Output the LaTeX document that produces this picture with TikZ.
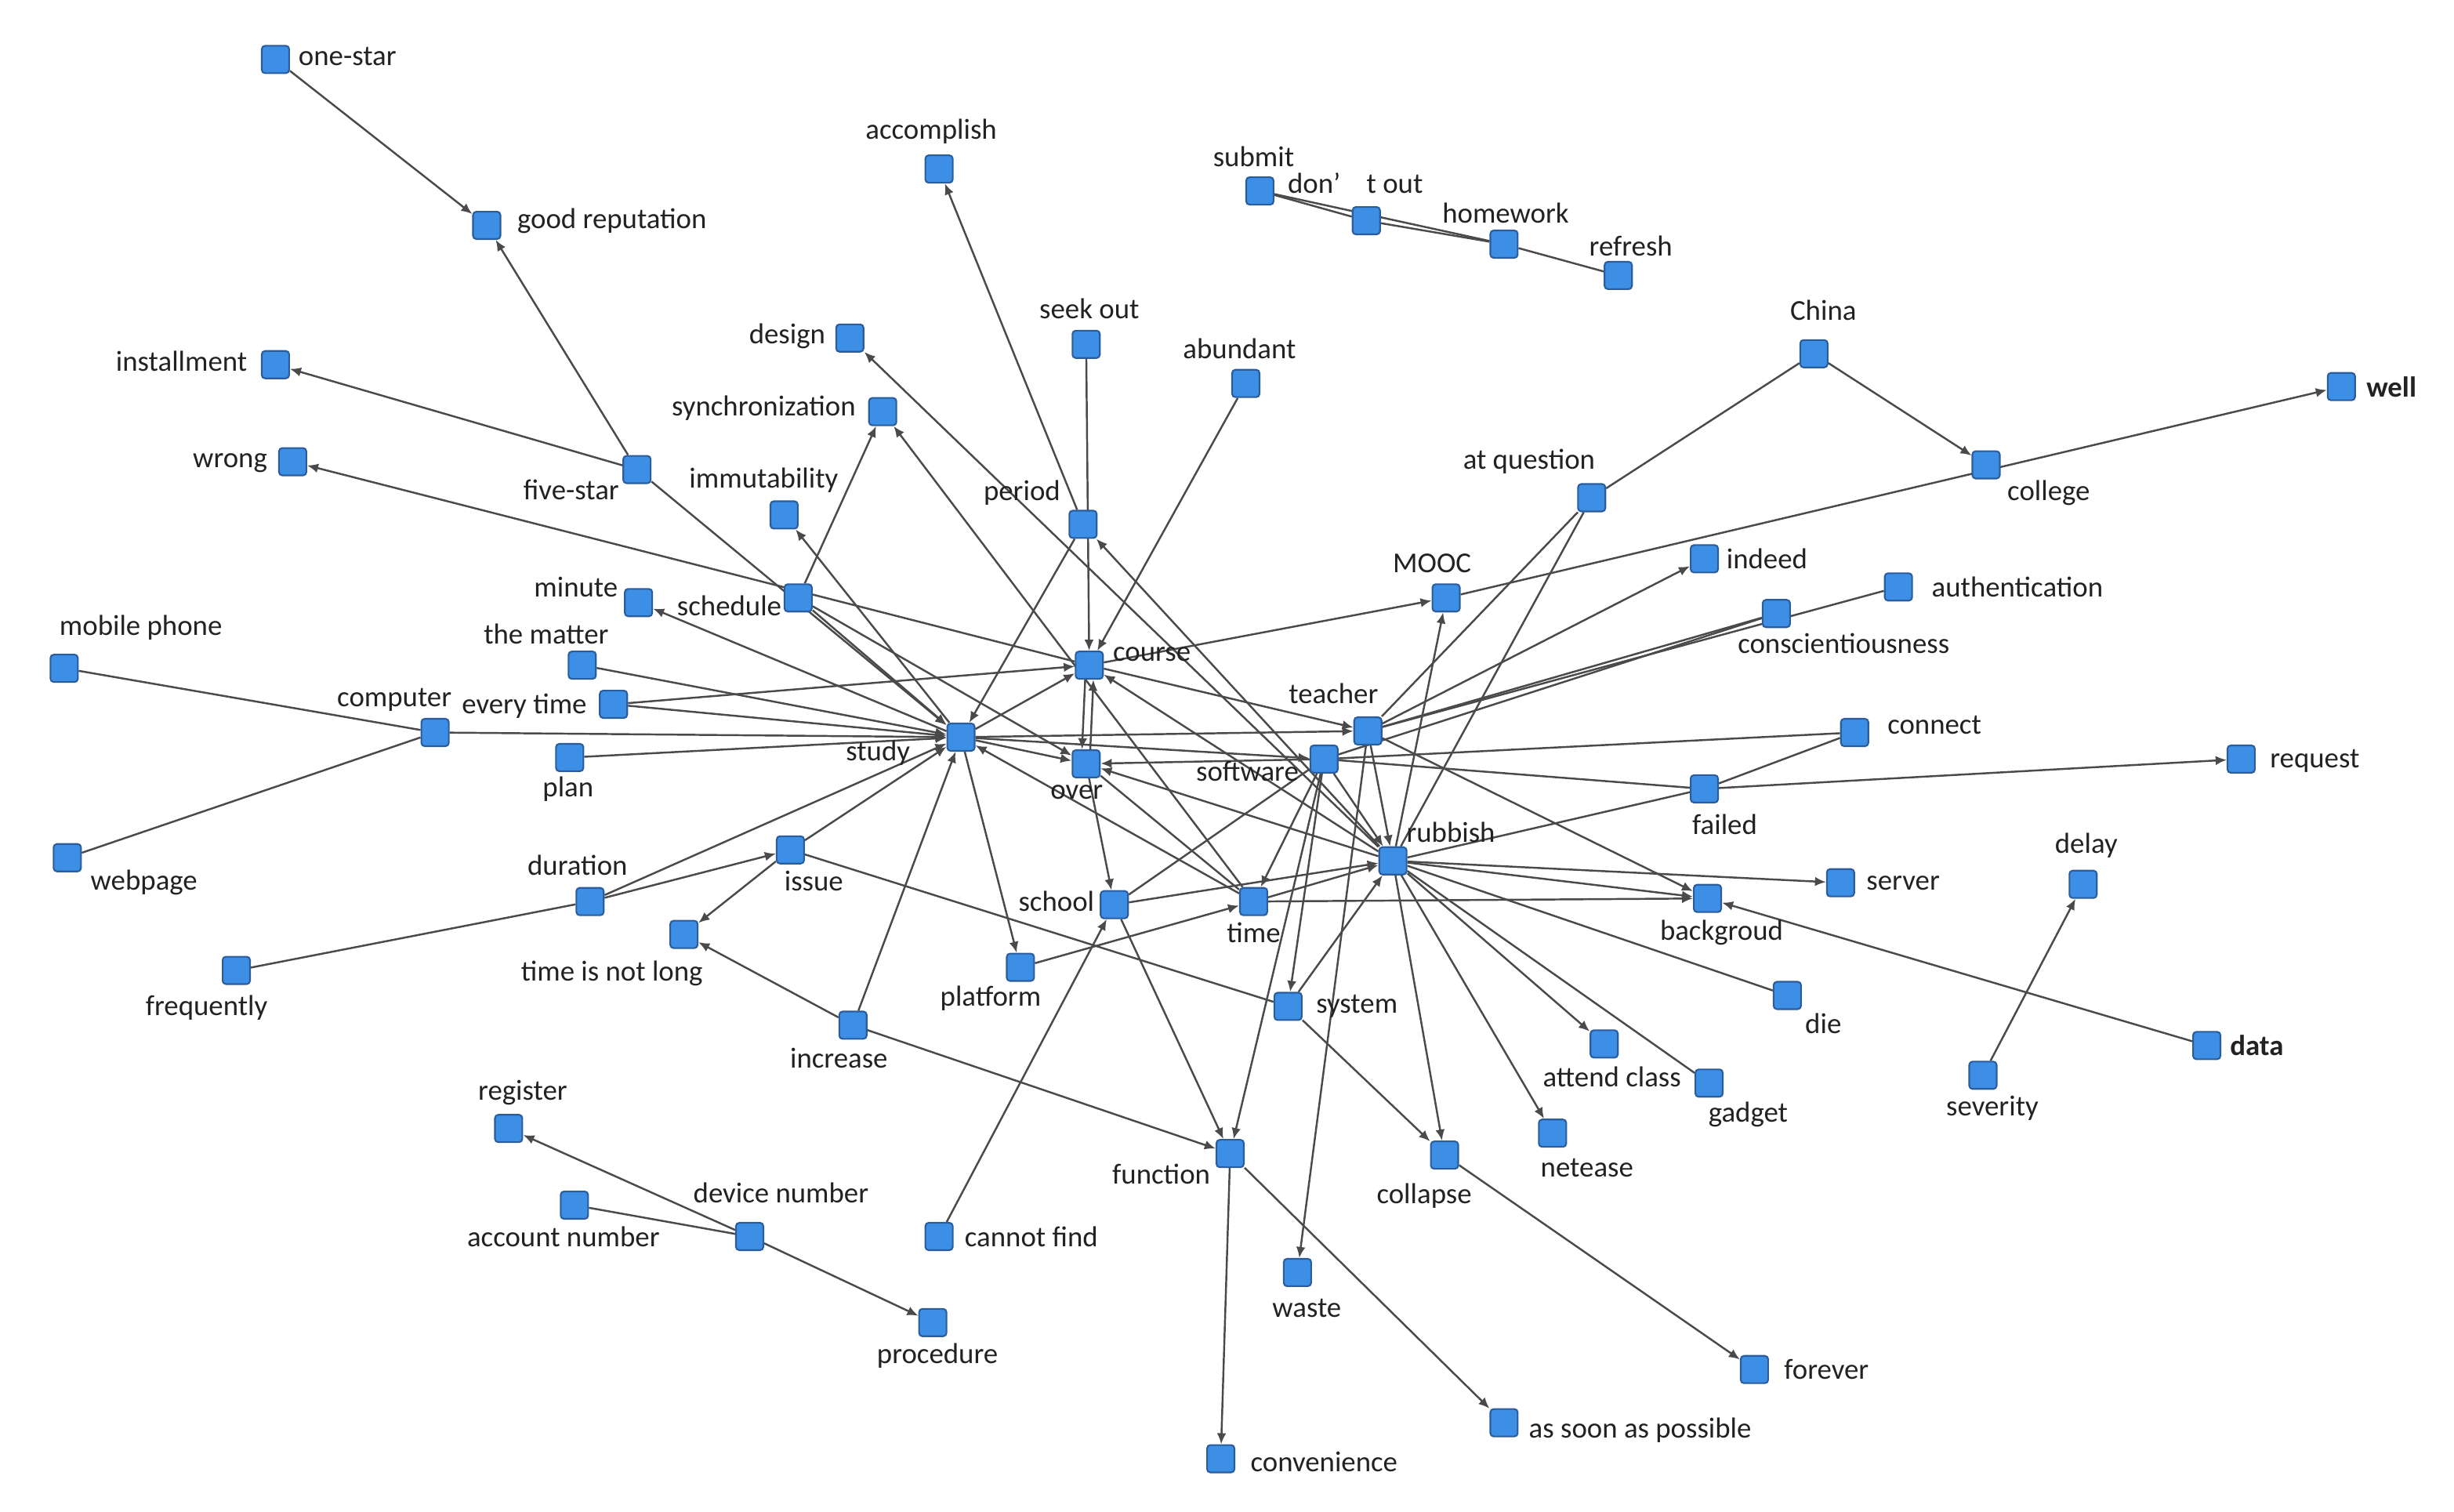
\documentclass[tikz,border=0pt]{standalone}
\usepackage{fontspec}
\setmainfont{Carlito}
\usetikzlibrary{arrows.meta}
\definecolor{nodefill}{HTML}{3D8FE6}
\definecolor{nodeedge}{HTML}{2B5C9C}
\definecolor{edgecol}{HTML}{4A4A4A}
\definecolor{txt}{HTML}{222222}
\pgfdeclarelayer{bg}
\pgfsetlayers{bg,main}
\begin{document}
\begin{tikzpicture}[x=0.02cm,y=-0.02cm,
 nd/.style={draw=nodeedge,fill=nodefill,line width=0.6pt,rounded corners=1.2pt,minimum size=0.35cm,inner sep=0pt},
 lbl/.style={text=txt,font=\fontsize{10.5}{12}\selectfont,inner sep=0pt,anchor=center},
 ed/.style={draw=edgecol,line width=0.7pt},
 ar/.style={ed,-{Latex[length=4pt,width=3.4pt]}},
]
\useasboundingbox (0,0) rectangle (1568,966);
% nodes
\node[nd] (onestar) at (176,38) {};
\node[nd] (goodrep) at (311,144) {};
\node[nd] (accomplish) at (600,108) {};
\node[nd] (submit) at (805,122) {};
\node[nd] (dontout) at (873,141) {};
\node[nd] (homework) at (961,156) {};
\node[nd] (refresh) at (1034,176) {};
\node[nd] (design) at (543,216) {};
\node[nd] (seekout) at (694,220) {};
\node[nd] (abundant) at (796,245) {};
\node[nd] (china) at (1159,226) {};
\node[nd] (well) at (1496,247) {};
\node[nd] (installment) at (176,233) {};
\node[nd] (sync) at (564,263) {};
\node[nd] (wrong) at (187,295) {};
\node[nd] (fivestar) at (407,300) {};
\node[nd] (college) at (1269,297) {};
\node[nd] (immut) at (501,329) {};
\node[nd] (period) at (692,335) {};
\node[nd] (atq) at (1017,318) {};
\node[nd] (indeed) at (1089,357) {};
\node[nd] (mooc) at (924,382) {};
\node[nd] (auth) at (1213,375) {};
\node[nd] (consc) at (1135,392) {};
\node[nd] (minute) at (408,385) {};
\node[nd] (schedule) at (510,382) {};
\node[nd] (matter) at (372,425) {};
\node[nd] (course) at (696,425) {};
\node[nd] (mobile) at (41,427) {};
\node[nd] (everytime) at (392,450) {};
\node[nd] (computer) at (278,468) {};
\node[nd] (teacher) at (874,467) {};
\node[nd] (study) at (614,471) {};
\node[nd] (connect) at (1185,468) {};
\node[nd] (plan) at (364,484) {};
\node[nd] (software) at (846,485) {};
\node[nd] (over) at (694,488) {};
\node[nd] (request) at (1432,485) {};
\node[nd] (failed) at (1089,504) {};
\node[nd] (webpage) at (43,548) {};
\node[nd] (issue) at (505,543) {};
\node[nd] (rubbish) at (890,550) {};
\node[nd] (server) at (1176,564) {};
\node[nd] (delay) at (1331,565) {};
\node[nd] (duration) at (377,576) {};
\node[nd] (school) at (712,578) {};
\node[nd] (time) at (801,576) {};
\node[nd] (backgroud) at (1091,574) {};
\node[nd] (tinl) at (437,597) {};
\node[nd] (platform) at (652,618) {};
\node[nd] (frequently) at (151,620) {};
\node[nd] (die) at (1142,636) {};
\node[nd] (system) at (823,643) {};
\node[nd] (increase) at (545,655) {};
\node[nd] (attend) at (1025,667) {};
\node[nd] (data) at (1410,668) {};
\node[nd] (severity) at (1267,687) {};
\node[nd] (gadget) at (1092,692) {};
\node[nd] (register) at (325,721) {};
\node[nd] (netease) at (992,724) {};
\node[nd] (function) at (786,737) {};
\node[nd] (collapse) at (923,738) {};
\node[nd] (account) at (367,770) {};
\node[nd] (device) at (479,790) {};
\node[nd] (cannotfind) at (600,790) {};
\node[nd] (waste) at (829,813) {};
\node[nd] (procedure) at (596,845) {};
\node[nd] (forever) at (1121,875) {};
\node[nd] (asap) at (961,909) {};
\node[nd] (convenience) at (780,932) {};
% labels
\node[lbl] (t-onestar) at (222,36) {one-star};
\node[lbl] (t-goodrep) at (391,141) {good reputation};
\node[lbl] (t-accomplish) at (595,84) {accomplish};
\node[lbl] (t-submit) at (801,100) {submit};
\node[lbl] (t-dontout) at (866,117) {don’\hspace{0.9em}t out};
\node[lbl] (t-homework) at (962,136) {homework};
\node[lbl] (t-refresh) at (1042,157) {refresh};
\node[lbl] (t-design) at (503,215) {design};
\node[lbl] (t-seekout) at (696,197) {seek out};
\node[lbl] (t-abundant) at (792,223) {abundant};
\node[lbl] (t-china) at (1165,198) {China};
\node[lbl] (t-well) at (1528,247) {\bfseries well};
\node[lbl] (t-installment) at (116,231) {installment};
\node[lbl] (t-sync) at (488,261) {synchronization};
\node[lbl] (t-wrong) at (147,296) {wrong};
\node[lbl] (t-fivestar) at (365,313) {five-star};
\node[lbl] (t-college) at (1309,315) {college};
\node[lbl] (t-immut) at (488,307) {immutability};
\node[lbl] (t-period) at (653,315) {period};
\node[lbl] (t-atq) at (977,295) {at question};
\node[lbl] (t-mooc) at (915,360) {MOOC};
\node[lbl] (t-indeed) at (1129,357) {indeed};
\node[lbl] (t-auth) at (1289,375) {authentication};
\node[lbl] (t-consc) at (1178,411) {conscientiousness};
\node[lbl] (t-minute) at (368,375) {minute};
\node[lbl] (t-schedule) at (466,387) {schedule};
\node[lbl] (t-matter) at (349,405) {the matter};
\node[lbl] (t-course) at (736,418) {course};
\node[lbl] (t-mobile) at (90,401) {mobile phone};
\node[lbl] (t-everytime) at (335,451) {every time};
\node[lbl] (t-computer) at (252,447) {computer};
\node[lbl] (t-teacher) at (852,443) {teacher};
\node[lbl] (t-study) at (561,481) {study};
\node[lbl] (t-connect) at (1236,463) {connect};
\node[lbl] (t-plan) at (363,504) {plan};
\node[lbl] (t-software) at (797,493) {software};
\node[lbl] (t-over) at (688,506) {over};
\node[lbl] (t-request) at (1479,486) {request};
\node[lbl] (t-failed) at (1102,527) {failed};
\node[lbl] (t-webpage) at (92,564) {webpage};
\node[lbl] (t-issue) at (520,563) {issue};
\node[lbl] (t-rubbish) at (927,532) {rubbish};
\node[lbl] (t-server) at (1216,564) {server};
\node[lbl] (t-delay) at (1333,540) {delay};
\node[lbl] (t-duration) at (369,553) {duration};
\node[lbl] (t-school) at (675,576) {school};
\node[lbl] (t-time) at (801,596) {time};
\node[lbl] (t-backgroud) at (1100,596) {backgroud};
\node[lbl] (t-tinl) at (391,622) {time is not long};
\node[lbl] (t-platform) at (633,638) {platform};
\node[lbl] (t-frequently) at (132,644) {frequently};
\node[lbl] (t-die) at (1165,654) {die};
\node[lbl] (t-system) at (867,643) {system};
\node[lbl] (t-increase) at (536,676) {increase};
\node[lbl] (t-attend) at (1030,688) {attend class};
\node[lbl] (t-data) at (1442,668) {\bfseries data};
\node[lbl] (t-severity) at (1273,708) {severity};
\node[lbl] (t-gadget) at (1117,712) {gadget};
\node[lbl] (t-register) at (334,698) {register};
\node[lbl] (t-netease) at (1014,746) {netease};
\node[lbl] (t-function) at (742,750) {function};
\node[lbl] (t-collapse) at (910,764) {collapse};
\node[lbl] (t-account) at (360,790) {account number};
\node[lbl] (t-device) at (499,762) {device number};
\node[lbl] (t-cannotfind) at (659,790) {cannot find};
\node[lbl] (t-waste) at (835,836) {waste};
\node[lbl] (t-procedure) at (599,866) {procedure};
\node[lbl] (t-forever) at (1167,875) {forever};
\node[lbl] (t-asap) at (1048,914) {as soon as possible};
\node[lbl] (t-convenience) at (846,934) {convenience};
% edges
\begin{pgfonlayer}{bg}
\fill[white] (0,0) rectangle (1568,966);
\draw[ar] (onestar) -- (goodrep);
\draw[ar] (fivestar) -- (goodrep);
\draw[ar] (fivestar) -- (installment);
\draw[ar] (course) -- (wrong);
\draw[ar] (fivestar) -- (study);
\draw[ar] (schedule) -- (sync);
\draw[ar] (time) -- (sync);
\draw[ar] (rubbish) -- (design);
\draw[ar] (study) -- (immut);
\draw[ar] (period) -- (accomplish);
\draw[ar] (seekout) -- (course);
\draw[ar] (abundant) -- (course);
\draw[ar] (rubbish) -- (period);
\draw[ar] (period) -- (study);
\draw[ar] (study) -- (minute);
\draw[ar] (schedule) -- (study);
\draw[ar] (schedule) -- (over);
\draw[ar] (matter) -- (study);
\draw[ar] (everytime) -- (course);
\draw[ar] (everytime) -- (study);
\draw[ar] (computer) -- (study);
\draw[ar] (plan) -- (study);
\draw[ed] (mobile) -- (computer);
\draw[ed] (webpage) -- (computer);
\draw[ed] (frequently) -- (duration);
\draw[ar] (duration) -- (issue);
\draw[ar] (duration) -- (study);
\draw[ar] (issue) -- (study);
\draw[ar] (issue) -- (tinl);
\draw[ar] (increase) -- (tinl);
\draw[ar] (increase) -- (study);
\draw[ar] (increase) -- (function);
\draw[ar] (study) -- (platform);
\draw[ar] (platform) -- (time);
\draw[ar] (cannotfind) -- (school);
\draw[ar] (study) -- (over);
\draw[ar] (study) -- (course);
\draw[ar] ([xshift=-1.5pt]course.south) -- ([xshift=-1.5pt]over.north);
\draw[ar] ([xshift=1.5pt]over.north) -- ([xshift=1.5pt]course.south);
\draw[ar] (over) -- (school);
\draw[ar] (study) -- (teacher);
\draw[ar] (study) -- (software);
\draw[ar] (time) -- (study);
\draw[ar] (rubbish) -- (over);
\draw[ar] (software) -- (over);
\draw[ar] (course) -- (teacher);
\draw[ar] (rubbish) -- (course);
\draw[ar] (course) -- (mooc);
\draw[ar] (rubbish) -- (mooc);
\draw[ar] (mooc) -- (well);
\draw[ed] (china) -- (atq);
\draw[ar] (china) -- (college);
\draw[ed] (atq) -- (teacher);
\draw[ed] (atq) -- (rubbish);
\draw[ar] (teacher) -- (indeed);
\draw[ed] (teacher) -- (consc);
\draw[ed] (software) -- (consc);
\draw[ed] (teacher) -- (auth);
\draw[ed] (software) -- (connect);
\draw[ed] (failed) -- (connect);
\draw[ed] (software) -- (failed);
\draw[ar] (failed) -- (request);
\draw[ed] (rubbish) -- (failed);
\draw[ar] (rubbish) -- (server);
\draw[ar] (rubbish) -- (backgroud);
\draw[ar] (teacher) -- (backgroud);
\draw[ar] (time) -- (backgroud);
\draw[ar] (data) -- (backgroud);
\draw[ar] (severity) -- (delay);
\draw[ed] (rubbish) -- (die);
\draw[ar] (rubbish) -- (attend);
\draw[ed] (rubbish) -- (gadget);
\draw[ar] (rubbish) -- (netease);
\draw[ar] (rubbish) -- (collapse);
\draw[ar] (system) -- (collapse);
\draw[ar] (collapse) -- (forever);
\draw[ar] (software) -- (system);
\draw[ar] (system) -- (rubbish);
\draw[ed] (issue) -- (system);
\draw[ar] (school) -- (function);
\draw[ar] (software) -- (function);
\draw[ar] (function) -- (convenience);
\draw[ar] (function) -- (asap);
\draw[ar] (teacher) -- (waste);
\draw[ed] (school) -- (software);
\draw[ar] (school) -- (rubbish);
\draw[ar] (time) -- (rubbish);
\draw[ar] (software) -- (time);
\draw[ar] (teacher) -- (rubbish);
\draw[ar] (software) -- (rubbish);
\draw[ed] (over) -- (time);
\draw[ar] (device) -- (register);
\draw[ed] (account) -- (device);
\draw[ar] (device) -- (procedure);
\draw[ed] (submit) -- (dontout);
\draw[ed] (submit) -- (homework);
\draw[ed] (dontout) -- (homework);
\draw[ed] (homework) -- (refresh);
\end{pgfonlayer}
\end{tikzpicture}
\end{document}
